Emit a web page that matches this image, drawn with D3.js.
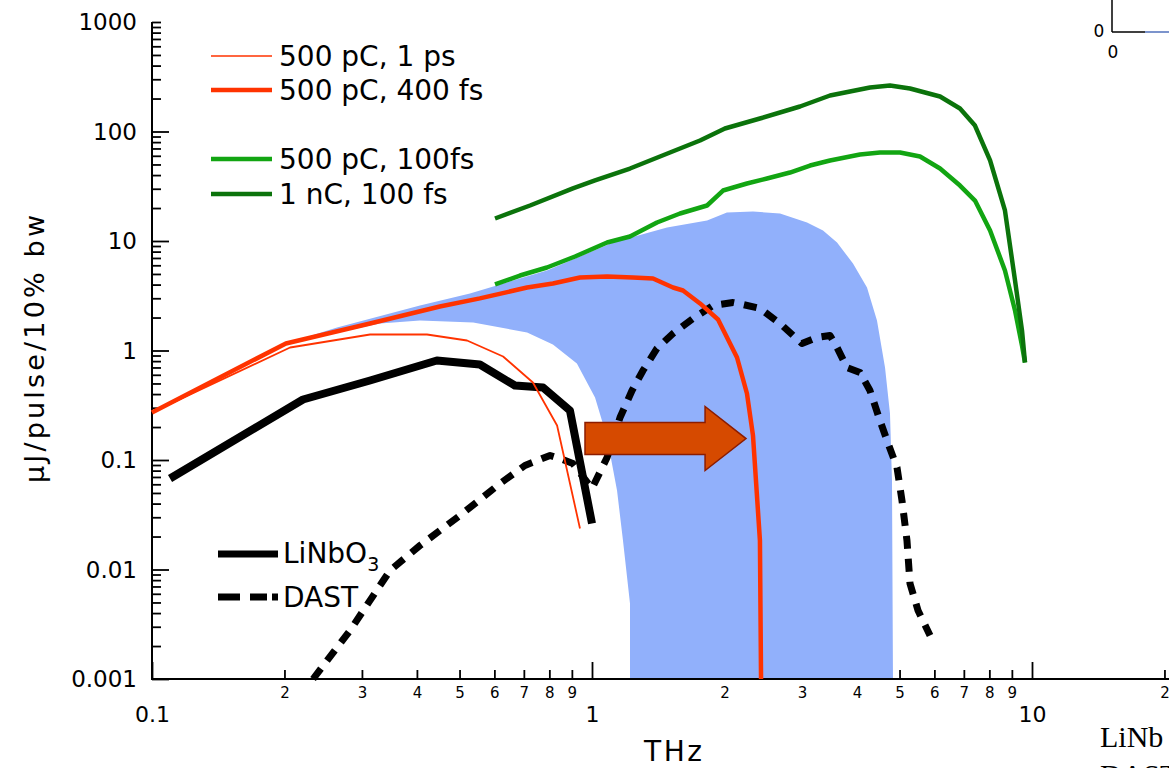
<!DOCTYPE html>
<html>
<head>
<meta charset="utf-8">
<script src="https://cdn.jsdelivr.net/npm/d3@7/dist/d3.min.js"></script>
<style>
  html, body { margin: 0; padding: 0; background: #fff; overflow: hidden; }
  svg { display: block; }
  text { font-family: "DejaVu Sans", Verdana, sans-serif; fill: #000; }
</style>
</head>
<body>
<svg id="chart" width="1169" height="768"></svg>
<script>
// THz pulse energy per 10% bandwidth vs frequency: [frequency THz, µJ/pulse/10% bw]
const red1ps = [
  [0.1, 0.272], [0.206, 1.065], [0.313, 1.40], [0.4217, 1.40], [0.520, 1.234],
  [0.628, 0.882], [0.734, 0.510], [0.833, 0.2065], [0.939, 0.0237]
];
const red400fs = [
  [0.1, 0.272], [0.2015, 1.16], [0.313, 1.765], [0.451, 2.52], [0.556, 2.99],
  [0.712, 3.76], [0.815, 4.09], [0.939, 4.64], [1.082, 4.74], [1.239, 4.64],
  [1.376, 4.55], [1.528, 3.76], [1.610, 3.53], [1.760, 2.69], [1.934, 1.92],
  [2.136, 0.863], [2.25, 0.405], [2.322, 0.1675], [2.408, 0.0184], [2.422, 0.001]
];
const green500pC = [
  [0.602, 4.01], [0.686, 4.84], [0.790, 5.73], [0.915, 7.22], [1.082, 9.69],
  [1.22, 11.0], [1.405, 14.76], [1.585, 17.83], [1.826, 21.1], [1.985, 28.9],
  [2.25, 33.5], [2.499, 37.2], [2.818, 42.2], [3.13, 48.9], [3.475, 54.4],
  [4.065, 61.7], [4.513, 64.3], [5.012, 64.3], [5.565, 59.1], [6.18, 45.9],
  [6.86, 32.1], [7.42, 23.4], [8.03, 12.47], [8.68, 5.38], [9.15, 2.32],
  [9.49, 1.11], [9.64, 0.777]
];
const green1nC = [
  [0.602, 16.05], [0.723, 21.1], [0.905, 30.2], [1.016, 35.7], [1.22, 45.9],
  [1.504, 64.3], [1.760, 82.8], [2.005, 106.5], [2.408, 131.4], [2.97, 169.2],
  [3.475, 213.2], [3.858, 231.9], [4.283, 252.2], [4.756, 263.1], [5.281, 247],
  [6.18, 208.7], [6.86, 162.2], [7.42, 113.4], [8.03, 54.4], [8.68, 19.0],
  [9.15, 4.36], [9.49, 1.523], [9.64, 0.777]
];
const linbo3 = [
  [0.1099, 0.0678], [0.2204, 0.357], [0.313, 0.532], [0.444, 0.810], [0.556, 0.745],
  [0.668, 0.479], [0.774, 0.459], [0.891, 0.283], [1.0, 0.0263]
];
const dast = [
  [0.2323, 0.001], [0.2818, 0.00277], [0.3475, 0.0098], [0.4064, 0.01656], [0.501, 0.0311],
  [0.618, 0.061], [0.704, 0.0891], [0.803, 0.110], [0.846, 0.103], [0.905, 0.0929],
  [1.0, 0.0549], [1.082, 0.1054], [1.158, 0.2445], [1.233, 0.431], [1.306, 0.657],
  [1.405, 1.043], [1.528, 1.43], [1.696, 1.96], [1.884, 2.58], [2.092, 2.74],
  [2.204, 2.63], [2.408, 2.42], [2.675, 1.765], [3.0, 1.158], [3.246, 1.314],
  [3.475, 1.371], [3.605, 1.065], [3.798, 0.699], [4.065, 0.630], [4.283, 0.431],
  [4.513, 0.2295], [4.683, 0.1507], [4.934, 0.0854], [5.064, 0.0427], [5.198, 0.0184],
  [5.281, 0.00745], [5.508, 0.00422], [5.865, 0.0025]
];
// shaded band: upper edge left-to-right, then lower edge right-to-left
const bandOutline = [
  [0.2015, 1.16], [0.2634, 1.622], [0.4064, 2.58], [0.528, 3.32], [0.790, 5.38],
  [1.116, 9.69], [1.481, 13.29], [1.826, 15.39], [2.026, 18.21], [2.322, 18.6],
  [2.675, 17.83], [3.081, 14.76], [3.35, 12.47], [3.605, 9.69], [3.919, 6.23],
  [4.217, 3.76], [4.443, 1.879], [4.634, 0.699], [4.756, 0.266], [4.806, 0.065],
  [4.831, 0.001], [1.22, 0.001], [1.22, 0.00489], [1.176, 0.0184], [1.140, 0.0527],
  [1.082, 0.1605], [1.016, 0.372], [0.924, 0.761], [0.815, 1.134], [0.712, 1.46],
  [0.537, 1.802], [0.4064, 1.879], [0.3298, 1.765]
];
// arrow annotation: body x0, head base x, tip x; y levels top/bottom of head & body
const arrowX = [0.964, 1.807, 2.239];
const arrowY = { headTop: 0.308, bodyTop: 0.22, tip: 0.157, bodyBottom: 0.1122, headBottom: 0.0802 };

const yMajor = [0.001, 0.01, 0.1, 1, 10, 100, 1000];
const yMajorLabels = ["0.001", "0.01", "0.1", "1", "10", "100", "1000"];
const xMajor = [0.1, 1, 10];
const xMajorLabels = ["0.1", "1", "10"];
const minorDigits = [2, 3, 4, 5, 6, 7, 8, 9];

const legendTop = [
  { label: "500 pC, 1 ps", color: "#ff3300", width: 1.6, y: 56 },
  { label: "500 pC, 400 fs", color: "#ff3300", width: 4.5, y: 90 },
  { label: "500 pC, 100fs", color: "#12a512", width: 4.5, y: 159 },
  { label: "1 nC, 100 fs", color: "#0b730b", width: 4.5, y: 194 }
];

const svg = d3.select("#chart");
svg.append("rect").attr("width", 1169).attr("height", 768).attr("fill", "#fff");

const x = d3.scaleLog().domain([0.1, 10]).range([152, 1032]);
const y = d3.scaleLog().domain([0.001, 1000]).range([679, 22]);

// y axis ticks (inward) and labels
const yMinor = [];
[0.001, 0.01, 0.1, 1, 10, 100].forEach(d => minorDigits.forEach(m => yMinor.push(d * m)));
const xMinor = [];
[0.1, 1, 10].forEach(d => minorDigits.forEach(m => { if (d * m < 21) xMinor.push(d * m); }));

const gy = svg.append("g").attr("transform", "translate(152,0)");
gy.append("g").call(d3.axisLeft(y).tickValues(yMinor).tickSizeInner(-9).tickSizeOuter(0).tickFormat(""))
  .call(g => g.select(".domain").remove())
  .call(g => g.selectAll("line").attr("stroke", "#000").attr("stroke-width", 1.8));
gy.append("g").call(d3.axisLeft(y).tickValues(yMajor).tickSizeOuter(0).tickPadding(15)
    .tickSizeInner(-17).tickFormat((d, i) => yMajorLabels[i]))
  .call(g => g.select(".domain").remove())
  .call(g => g.selectAll("line").attr("stroke", "#000").attr("stroke-width", 1.8)
    .attr("x2", d => d === 1000 ? 9 : 17))
  .call(g => g.selectAll("text").attr("font-size", 23).attr("font-family", "DejaVu Sans")
    .attr("dy", "0.34em").attr("fill", "#000"));

// x axis ticks (inward) and labels
const gx = svg.append("g").attr("transform", "translate(0,679)");
gx.append("g").call(d3.axisBottom(x).tickValues(xMinor).tickSizeInner(-9).tickSizeOuter(0)
    .tickPadding(8).tickFormat(d => String(Math.round(d / Math.pow(10, Math.floor(Math.log10(d) + 1e-9))))))
  .call(g => g.select(".domain").remove())
  .call(g => g.selectAll("line").attr("stroke", "#000").attr("stroke-width", 1.8))
  .call(g => g.selectAll("text").attr("font-size", 15).attr("font-family", "DejaVu Sans").attr("fill", "#000"));
gx.append("g").call(d3.axisBottom(x).tickValues(xMajor).tickSizeInner(-17).tickSizeOuter(0)
    .tickPadding(27).tickFormat((d, i) => xMajorLabels[i]))
  .call(g => g.select(".domain").remove())
  .call(g => g.selectAll("line").attr("stroke", "#000").attr("stroke-width", 1.8))
  .call(g => g.selectAll("text").attr("font-size", 22).attr("font-family", "DejaVu Sans").attr("fill", "#000"));

// shaded band
const line = d3.line().x(d => x(d[0])).y(d => y(d[1]));
svg.append("path").attr("d", line(bandOutline) + "Z").attr("fill", "#91b0fb").attr("stroke", "none");

// axis lines
svg.append("line").attr("x1", 152).attr("x2", 152).attr("y1", y(1000)).attr("y2", y(0.001))
  .attr("stroke", "#000").attr("stroke-width", 2);
svg.append("line").attr("x1", 151).attr("x2", 1169).attr("y1", y(0.001)).attr("y2", y(0.001))
  .attr("stroke", "#000").attr("stroke-width", 2);

// curves
function curve(data, color, width, dash) {
  const p = svg.append("path").attr("d", line(data)).attr("fill", "none")
    .attr("stroke", color).attr("stroke-width", width).attr("stroke-linejoin", "round");
  if (dash) p.attr("stroke-dasharray", dash);
  return p;
}
curve(dast, "#000", 7, "13,10");
curve(linbo3, "#000", 8);
curve(red1ps, "#ff3300", 1.8);
curve(red400fs, "#ff3300", 4.5);
curve(green500pC, "#12a512", 4.5);
curve(green1nC, "#0b730b", 4.5);

// arrow
const ax0 = x(arrowX[0]), ax1 = x(arrowX[1]), ax2 = x(arrowX[2]);
const arrowPath = d3.path();
arrowPath.moveTo(ax0, y(arrowY.bodyTop));
arrowPath.lineTo(ax1, y(arrowY.bodyTop));
arrowPath.lineTo(ax1, y(arrowY.headTop));
arrowPath.lineTo(ax2, y(arrowY.tip));
arrowPath.lineTo(ax1, y(arrowY.headBottom));
arrowPath.lineTo(ax1, y(arrowY.bodyBottom));
arrowPath.lineTo(ax0, y(arrowY.bodyBottom));
arrowPath.closePath();
svg.append("path").attr("d", arrowPath.toString()).attr("fill", "#d64a00")
  .attr("stroke", "#8c1c00").attr("stroke-width", 1.5);

// legends
const lg = svg.append("g");
legendTop.forEach(d => {
  lg.append("line").attr("x1", 211).attr("x2", 272).attr("y1", d.y).attr("y2", d.y)
    .attr("stroke", d.color).attr("stroke-width", d.width);
  lg.append("text").attr("x", 279).attr("y", d.y).attr("dy", "0.36em")
    .attr("font-size", 28).text(d.label);
});
lg.append("line").attr("x1", 218).attr("x2", 278).attr("y1", 554).attr("y2", 554)
  .attr("stroke", "#000").attr("stroke-width", 7);
const t1 = lg.append("text").attr("x", 283).attr("y", 563).attr("font-size", 28);
t1.append("tspan").text("LiNbO");
t1.append("tspan").attr("font-size", 19).attr("dy", 8).text("3");
lg.append("line").attr("x1", 218).attr("x2", 278).attr("y1", 597).attr("y2", 597)
  .attr("stroke", "#000").attr("stroke-width", 7).attr("stroke-dasharray", "22,10,17,5");
lg.append("text").attr("x", 283).attr("y", 607).attr("font-size", 28).text("DAST");

// axis titles
svg.append("text").attr("transform", "translate(44,349) rotate(-90)")
  .attr("text-anchor", "middle").attr("font-size", 27)
  .attr("textLength", 268).attr("lengthAdjust", "spacing").text("µJ/pulse/10% bw");
svg.append("text").attr("x", 673).attr("y", 761).attr("text-anchor", "middle")
  .attr("font-size", 28).attr("textLength", 58).attr("lengthAdjust", "spacing").text("THz");

// adjacent panel edge at the right
const side = svg.append("g");
side.append("line").attr("x1", 1112).attr("x2", 1112).attr("y1", 0).attr("y2", 32)
  .attr("stroke", "#000").attr("stroke-width", 1.5);
side.append("line").attr("x1", 1112).attr("x2", 1169).attr("y1", 32).attr("y2", 32)
  .attr("stroke", "#000").attr("stroke-width", 1.5);
side.append("line").attr("x1", 1145).attr("x2", 1169).attr("y1", 32).attr("y2", 32)
  .attr("stroke", "#91b0fb").attr("stroke-width", 1.5);
side.append("text").attr("x", 1099).attr("y", 37).attr("text-anchor", "middle").attr("font-size", 17).text("0");
side.append("text").attr("x", 1113).attr("y", 58).attr("text-anchor", "middle").attr("font-size", 17).text("0");
side.append("text").attr("x", 1100).attr("y", 747).attr("font-size", 30)
  .style("font-family", "'Liberation Serif', 'Times New Roman', serif").text("LiNb");
side.append("text").attr("x", 1100).attr("y", 785).attr("font-size", 30)
  .style("font-family", "'Liberation Serif', 'Times New Roman', serif").text("DAST");
</script>
</body>
</html>
